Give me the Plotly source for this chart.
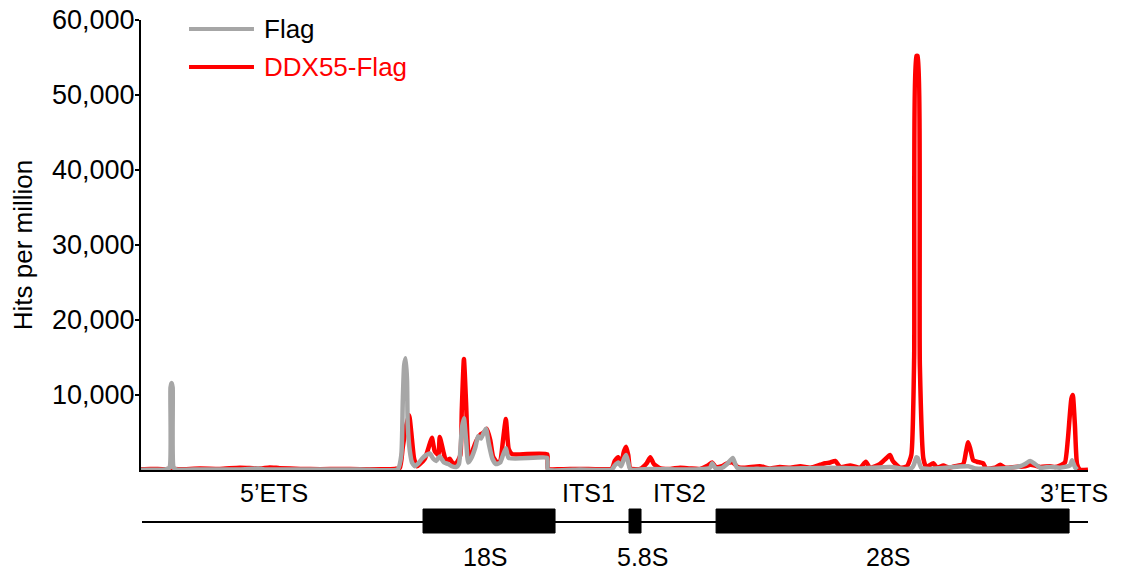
import plotly.graph_objects as go

# ---- data (positions along the 45S rDNA, nt ; values in hits per million) ----
pos_ddx55 = [0, 130, 340, 410, 550, 830, 1110, 1390, 1670, 1810, 1950, 2240, 2520, 2800, 3080, 3360,
             3570, 3640, 3680, 3730, 3770, 3800, 3840, 3880, 3920, 3990, 4060, 4090, 4130, 4180, 4200,
             4250, 4290, 4340, 4390, 4440, 4490, 4510, 4540, 4570, 4600, 4630, 4670, 4720, 4780, 4820,
             4860, 4910, 4950, 5010, 5050, 5090, 5130, 5170, 5220, 5710, 5720, 5890, 6170, 6450, 6620,
             6660, 6710, 6750, 6790, 6820, 6850, 6880, 7020, 7110, 7160, 7210, 7300, 7440, 7580, 7720,
             7860, 7970, 8030, 8080, 8170, 8240, 8320, 8390, 8490, 8700, 8840, 8980, 9130, 9270, 9410,
             9550, 9620, 9690, 9760, 9830, 9970, 10110, 10190, 10250, 10390, 10470, 10530, 10570, 10670,
             10770, 10830, 10870, 10900, 10920, 10950, 11000, 11040, 11140, 11190, 11280, 11330, 11370,
             11440, 11560, 11600, 11630, 11660, 11700, 11750, 11800, 11840, 11880, 12010, 12080, 12150,
             12290, 12430, 12500, 12570, 12640, 12780, 12850, 12920, 12990, 13030, 13080, 13100, 13130,
             13160, 13200, 13314]
hits_ddx55 = [100, 150, 100, 150, 100, 200, 150, 300, 200, 350, 250, 150, 100, 150, 100, 100,
              150, 300, 3000, 6000, 7300, 5000, 1500, 500, 800, 1500, 3500, 4300, 2500, 2000, 4400,
              2500, 1200, 1500, 800, 1000, 2000, 8000, 14800, 9000, 2500, 1500, 2800, 4000, 4800, 5000,
              5500, 4000, 1800, 1000, 1200, 4000, 6800, 2800, 2100, 2100, 150, 100, 150, 100, 200,
              1200, 1700, 800, 2500, 3100, 2000, 200, 150, 900, 1700, 800, 200, 150, 300, 200,
              150, 600, 1000, 400, 500, 900, 1000, 400, 300, 500, 200, 400, 300, 500, 300,
              700, 900, 1000, 1200, 400, 600, 300, 1100, 300, 800, 1500, 2000, 1200, 300,
              500, 2000, 15000, 55200, 55200, 14000, 1500, 400, 900, 300, 600, 400, 300,
              500, 800, 2500, 3700, 2800, 1300, 1100, 1000, 900, 200, 300, 700, 300,
              400, 500, 700, 600, 400, 500, 400, 600, 1000, 4000, 9500, 10000, 6000,
              800, 50, 50]

pos_flag = [0, 340, 400, 415, 430, 445, 460, 510, 830, 1390, 1650, 1740, 2240, 3080, 3610, 3660,
            3680, 3700, 3720, 3740, 3750, 3780, 3810, 3850, 3890, 3950, 4010, 4060, 4110, 4150, 4200,
            4260, 4320, 4370, 4430, 4470, 4510, 4540, 4570, 4600, 4640, 4700, 4740, 4780, 4820, 4850,
            4890, 4940, 4990, 5050, 5090, 5130, 5170, 5710, 5720, 6170, 6620, 6660, 6710, 6750, 6790,
            6820, 6850, 6880, 7160, 7580, 7860, 8000, 8030, 8080, 8170, 8240, 8320, 8380, 8700, 9130,
            9690, 10110, 10530, 10740, 10840, 10870, 10900, 10920, 10970, 11090, 11630, 11730, 12080,
            12360, 12430, 12500, 12570, 12640, 12780, 12920, 13060, 13090, 13130, 13160]
hits_flag = [50, 60, 300, 11000, 11600, 11000, 300, 50, 80, 60, 200, 80, 60, 80, 100, 2000,
             9000, 14000, 14900, 12000, 6000, 2500, 1000, 500, 800, 1500, 2000, 2200, 1500, 1200, 1800,
             1000, 800, 500, 400, 800, 5500, 6900, 4000, 1000, 1500, 3000, 4500, 4200, 5000, 5500,
             3500, 1500, 800, 1000, 2000, 2900, 1600, 1600, 80, 60, 80, 600, 1000, 500, 1500,
             2000, 1000, 80, 150, 80, 100, 300, 900, 200, 300, 800, 1600, 300, 150, 200,
             300, 200, 400, 150, 300, 800, 1700, 1600, 300, 150, 500, 200, 200,
             500, 800, 1200, 800, 300, 400, 300, 600, 1300, 400, 50]

# gene model (nt)
region_names = ["18S", "5.8S", "28S"]
region_starts = [3965, 6861, 8085]
region_ends = [5821, 7030, 13048]
region_label_pos = [4837, 7044, 10503]
spacer_names = ["5\u2019ETS", "ITS1", "ITS2", "3\u2019ETS"]
spacer_label_pos = [1870, 6285, 7564, 13118]
transcript_start, transcript_end = 14, 13314

series_names = ["Flag", "DDX55-Flag"]
series_colors = ["#a6a6a6", "#ff0000"]
y_ticks = [10000, 20000, 30000, 40000, 50000, 60000]

FONT = "Liberation Sans, Arial, sans-serif"

fig = go.Figure()
fig.add_trace(go.Scatter(x=pos_ddx55, y=hits_ddx55, mode="lines", name=series_names[1],
                         line=dict(color=series_colors[1], width=4.5, shape="spline", smoothing=0.5),
                         showlegend=False))
fig.add_trace(go.Scatter(x=pos_flag, y=hits_flag, mode="lines", name=series_names[0],
                         line=dict(color=series_colors[0], width=4.5, shape="spline", smoothing=0.5),
                         showlegend=False))

# manual legend (long line keys)
leg_y = [0.98, 0.8956]
for name, col, yy in zip(series_names, series_colors, leg_y):
    fig.add_shape(type="line", xref="paper", yref="paper", x0=0.0507, x1=0.1193, y0=yy, y1=yy,
                  line=dict(color=col, width=4))
    fig.add_annotation(xref="paper", yref="paper", x=0.1278, y=yy, text=name, showarrow=False,
                       xanchor="left", yanchor="middle",
                       font=dict(family=FONT, size=26, color="black" if col != "#ff0000" else col))

# gene diagram below the axis
line_y = -0.1156
box_y0, box_y1 = -0.14, -0.0867
fig.add_shape(type="line", xref="x", yref="paper", x0=transcript_start, x1=transcript_end,
              y0=line_y, y1=line_y, line=dict(color="black", width=2))
for s, e in zip(region_starts, region_ends):
    fig.add_shape(type="rect", xref="x", yref="paper", x0=s, x1=e, y0=box_y0, y1=box_y1,
                  line=dict(color="black", width=1), fillcolor="black")
for name, p in zip(region_names, region_label_pos):
    fig.add_annotation(xref="x", yref="paper", x=p, y=-0.193, text=name, showarrow=False,
                       xanchor="center", yanchor="middle", font=dict(family=FONT, size=25, color="black"))
for name, p in zip(spacer_names, spacer_label_pos):
    fig.add_annotation(xref="x", yref="paper", x=p, y=-0.051, text=name, showarrow=False,
                       xanchor="center", yanchor="middle", font=dict(family=FONT, size=25, color="black"))

fig.update_layout(
    width=1122, height=572,
    margin=dict(l=141, r=34, t=20, b=102),
    plot_bgcolor="white", paper_bgcolor="white",
    font=dict(family=FONT, size=26, color="black"),
    xaxis=dict(range=[0, 13314], showgrid=False, zeroline=False, showticklabels=False, ticks="",
               showline=True, linecolor="black", linewidth=1.5, automargin=False),
    yaxis=dict(range=[0, 60000], showgrid=False, zeroline=False, showline=True, linecolor="black",
               linewidth=2, ticks="outside", ticklen=4, tickwidth=1.5, tickcolor="black",
               tickvals=y_ticks, tickformat=",d", tickfont=dict(family=FONT, size=27),
               ticklabelstandoff=-5, automargin=False,
               title=dict(text="Hits per million", font=dict(family=FONT, size=26), standoff=12)),
)

fig.write_html("out.html", config={"displayModeBar": False},
               post_script="document.body.style.margin='0';document.body.style.padding='0';")
